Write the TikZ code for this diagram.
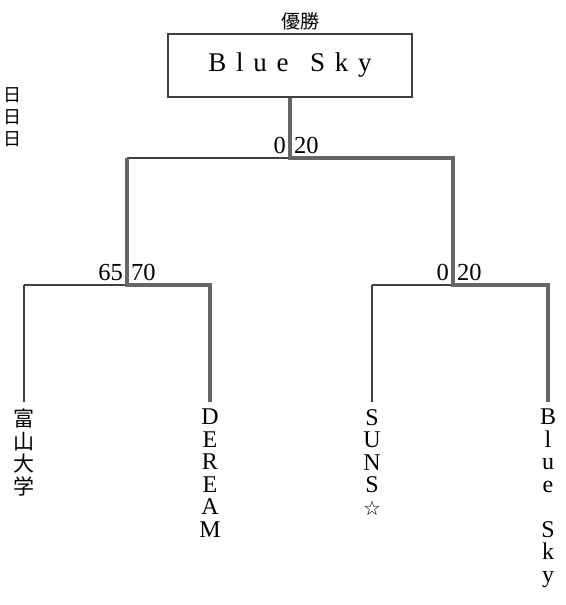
\documentclass[tikz,border=0pt]{standalone}
\usepackage{fontspec}
\setmainfont{Liberation Serif}
\newfontfamily\cjk{Noto Sans CJK JP}
\newfontfamily\sym{DejaVu Sans}
\begin{document}
\begin{tikzpicture}[x=1pt,y=-1pt,
  thin line/.style={draw=black!75,line width=1.3pt},
  win line/.style={draw=black!60,line width=4.5pt},
  score/.style={font=\fontsize{24.5}{24.5}\selectfont,inner sep=1pt},
  vname/.style={anchor=north,align=center,inner sep=0pt,font=\fontsize{24}{22.5}\selectfont},
  champ/.style={draw=black!75,line width=1.3pt,minimum width=244pt,minimum height=63pt,inner sep=0pt}]
\useasboundingbox (0,0) rectangle (565,605);
% champion box
\node[champ] (box) at (290,65.5) {\fontsize{27}{27}\selectfont B\hspace{0.36em}l\hspace{0.36em}u\hspace{0.36em}e\hspace{0.8em}S\hspace{0.36em}k\hspace{0.36em}y};
\node[font=\cjk\fontsize{19}{19}\selectfont] (title) at (300,21) {優勝};
\node[font=\cjk\fontsize{18}{22}\selectfont,align=center,anchor=north] (days) at (13,84) {日\\[0pt]日\\[0pt]日};
% coordinates
\coordinate (top) at (290,158);
\coordinate (L) at (127,158);
\coordinate (R) at (453,158);
\coordinate (Lj) at (127,285);
\coordinate (Rj) at (453,285);
\coordinate (a) at (24,285);
\coordinate (b) at (210,285);
\coordinate (c) at (372,285);
\coordinate (d) at (548,285);
\coordinate (a2) at (24,402);
\coordinate (b2) at (210,402);
\coordinate (c2) at (372,402);
\coordinate (d2) at (548,402);
% thin (losing) lines
\draw[thin line] (L) -- (top);
\draw[thin line] (a) -- (Lj);
\draw[thin line] (a) -- (a2);
\draw[thin line] (c) -- (Rj);
\draw[thin line] (c) -- (c2);
% winning path lines
\draw[win line,line join=miter] (box.south) -- (top) -- (R) -- (Rj) -- (d) -- (d2);
\draw[win line,line join=miter] (L) -- (Lj) -- (b) -- (b2);
% scores
\node[score,anchor=south east] (s1) at (287,155) {0};
\node[score,anchor=south west] (s2) at (293,155) {20};
\node[score,anchor=south east] (s3) at (124,282) {65};
\node[score,anchor=south west] (s4) at (130,282) {70};
\node[score,anchor=south east] (s5) at (450,282) {0};
\node[score,anchor=south west] (s6) at (456,282) {20};
% team names
\node[vname,font=\cjk\fontsize{21}{22.5}\selectfont] (t1) at (24,409) {富\\山\\大\\学};
\node[vname] (t2) at (210,409) {D\\E\\R\\E\\A\\M};
\node[vname] (t3) at (372,409) {S\\U\\N\\S\\{\sym\fontsize{20}{20}\selectfont ☆}};
\node[vname] (t4) at (548,409) {B\\l\\u\\e\\ \\S\\k\\y};
\end{tikzpicture}
\end{document}
